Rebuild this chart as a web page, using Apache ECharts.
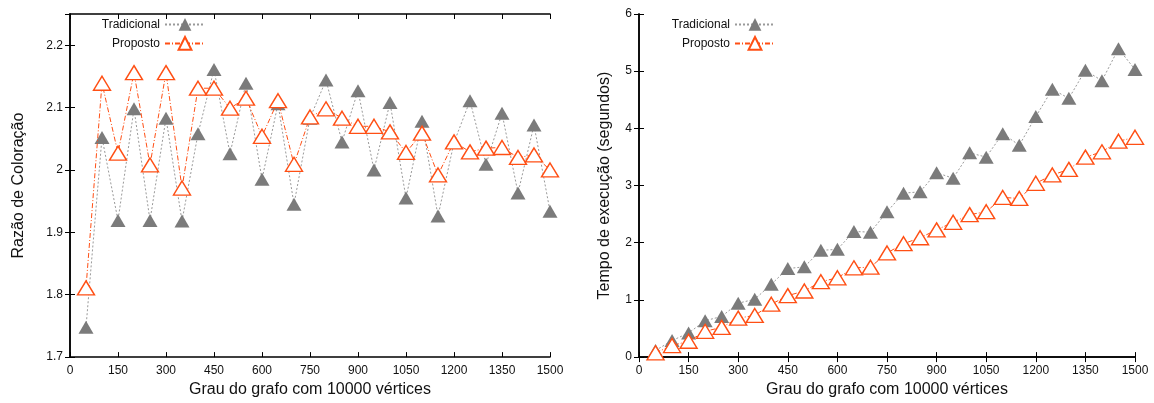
<!DOCTYPE html>
<html>
<head>
<meta charset="utf-8">
<script src="https://cdn.jsdelivr.net/npm/echarts@6/dist/echarts.min.js"></script>
<style>
html,body{margin:0;padding:0;background:#fff;}
#chart{width:1154px;height:403px;}
</style>
</head>
<body>
<div id="chart"></div>
<script>
// ---- data ----
const degrees = [50,100,150,200,250,300,350,400,450,500,550,600,650,700,750,800,850,900,950,1000,1050,1100,1150,1200,1250,1300,1350,1400,1450,1500];
const xTicks = [0,150,300,450,600,750,900,1050,1200,1350,1500];

const ratioTradicional = [1.748,2.052,1.919,2.098,1.919,2.083,1.918,2.058,2.161,2.026,2.139,1.985,2.106,1.945,2.083,2.144,2.045,2.127,2.000,2.108,1.955,2.078,1.926,2.044,2.111,2.009,2.091,1.963,2.072,1.934];
const ratioProposto    = [1.811,2.139,2.027,2.156,2.008,2.156,1.971,2.131,2.131,2.099,2.115,2.054,2.111,2.009,2.085,2.098,2.083,2.070,2.070,2.061,2.028,2.059,1.992,2.045,2.029,2.035,2.036,2.020,2.024,2.000];

const timeTradicional = [0.116,0.289,0.422,0.636,0.711,0.942,1.012,1.272,1.549,1.578,1.867,1.884,2.197,2.185,2.540,2.867,2.890,3.225,3.127,3.572,3.497,3.908,3.705,4.208,4.682,4.526,5.017,4.832,5.393,5.029];
const timeProposto    = [0.075,0.202,0.277,0.451,0.520,0.682,0.728,0.925,1.075,1.156,1.318,1.387,1.561,1.572,1.821,1.983,2.087,2.225,2.358,2.491,2.543,2.792,2.775,3.040,3.185,3.283,3.497,3.590,3.775,3.844];

const leftYTicks = [1.7,1.8,1.9,2.0,2.1,2.2];
const rightYTicks = [0,1,2,3,4,5,6];

const xTitle = 'Grau do grafo com 10000 vértices';
const leftYTitle = 'Razão de Coloração';
const rightYTitle = 'Tempo de execução (segundos)';
const nameTrad = 'Tradicional';
const nameProp = 'Proposto';

// ---- style ----
const FONT = '"Liberation Sans", Arial, Helvetica, sans-serif';
const GRAY = '#7b7b7b';
const GRAYLINE = '#9a9a9a';
const ORANGE = '#ff4f14';
const black = '#000';

function pair(xs, ys){ return xs.map((x,i)=>[x, ys[i]]); }
function fmt(v){ return String(Math.round(v*10)/10); }

const axisLine = {show:true, lineStyle:{color:black, width:1.5}};
const tick = {show:true, inside:true, length:5, lineStyle:{color:black, width:1}};
const labelStyle = {color:'#111', fontFamily:FONT, fontSize:12};

function xAxes(gi){
  const xmin = xTicks[0], xmax = xTicks[xTicks.length-1], xint = xTicks[1]-xTicks[0];
  return [
    {type:'value', gridIndex:gi, position:'bottom', min:xmin, max:xmax, interval:xint,
     axisLine:axisLine, axisTick:tick, splitLine:{show:false},
     axisLabel:Object.assign({margin:8, formatter:fmt}, labelStyle),
     name:xTitle, nameLocation:'middle', nameGap:23,
     nameTextStyle:{fontFamily:FONT, fontSize:16, color:'#111'}},
    {type:'value', gridIndex:gi, position:'top', min:xmin, max:xmax, interval:xint,
     axisLine:axisLine, axisTick:tick, splitLine:{show:false}, axisLabel:{show:false}}
  ];
}
function yAxes(gi, ticks, maxV, title, gap){
  const ymin = ticks[0], yint = Math.round((ticks[1]-ticks[0])*10)/10;
  return [
    {type:'value', gridIndex:gi, position:'left', min:ymin, max:maxV, interval:yint,
     axisLine:axisLine, axisTick:tick, splitLine:{show:false},
     axisLabel:Object.assign({margin:7, formatter:fmt, showMaxLabel: maxV===ticks[ticks.length-1]}, labelStyle),
     name:title, nameLocation:'middle', nameGap:gap, nameRotate:90,
     nameTextStyle:{fontFamily:FONT, fontSize:16, color:'#111'}},
    {type:'value', gridIndex:gi, position:'right', min:ymin, max:maxV, interval:yint,
     axisLine:axisLine, axisTick:tick, splitLine:{show:false}, axisLabel:{show:false}}
  ];
}

function tradSeries(xi, yi, ys){
  return {name:nameTrad, type:'line', xAxisIndex:xi, yAxisIndex:yi, data:pair(degrees, ys),
    symbol:'triangle', symbolSize:[15,13], showAllSymbol:true,
    itemStyle:{color:GRAY, borderWidth:0},
    lineStyle:{color:GRAYLINE, width:1, type:[2,2]}, z:2, animation:false};
}
function propSeries(xi, yi, ys){
  return {name:nameProp, type:'line', xAxisIndex:xi, yAxisIndex:yi, data:pair(degrees, ys),
    symbol:'triangle', symbolSize:[17,14], showAllSymbol:true,
    itemStyle:{color:'#fff', borderColor:ORANGE, borderWidth:1.4},
    lineStyle:{color:ORANGE, width:1, type:[5,2,1,2]}, z:3, animation:false};
}

function legend(name, rightPx, topPx){
  return {data:[name], orient:'vertical', align:'right', right:rightPx, top:topPx,
    itemWidth:40, itemHeight:16, selectedMode:false, padding:0,
    textStyle:{fontFamily:FONT, fontSize:12, color:'#111'}};
}

const option = {
  animation:false,
  backgroundColor:'#fff',
  grid:[
    {left:70, top:14, right:604, bottom:44},
    {left:639, top:14, right:19, bottom:44}
  ],
  legend:[
    legend(nameTrad, 1154-206, 18),
    legend(nameProp, 1154-206, 36),
    legend(nameTrad, 1154-776, 18),
    legend(nameProp, 1154-776, 36)
  ],
  xAxis:[...xAxes(0), ...xAxes(1)],
  yAxis:[...yAxes(0, leftYTicks, 2.25, leftYTitle, 43), ...yAxes(1, rightYTicks, 6, rightYTitle, 26)],
  series:[
    tradSeries(0,0,ratioTradicional),
    propSeries(0,0,ratioProposto),
    tradSeries(2,2,timeTradicional),
    propSeries(2,2,timeProposto)
  ]
};

const chart = echarts.init(document.getElementById('chart'), null, {renderer:'canvas'});
chart.setOption(option);
</script>
</body>
</html>
